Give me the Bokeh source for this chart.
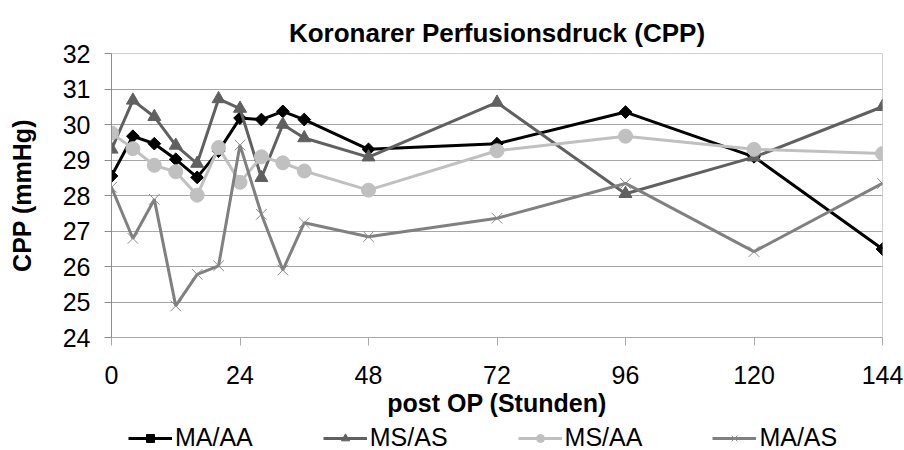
from bokeh.plotting import figure
from bokeh.layouts import column
from bokeh.models import Legend, LegendItem, FixedTicker, Range1d
from bokeh.embed import file_html
from bokeh.resources import INLINE

hours = [0, 4, 8, 12, 16, 20, 24, 28, 32, 36, 48, 72, 96, 120, 144]
ma_aa = [28.55, 29.67, 29.46, 29.02, 28.51, 29.25, 30.18, 30.14, 30.37, 30.14, 29.30, 29.46, 30.35, 29.09, 26.49]
ms_as = [29.30, 30.68, 30.22, 29.41, 28.90, 30.72, 30.45, 28.50, 30.00, 29.62, 29.08, 30.62, 28.05, 29.08, 30.50]
ms_aa = [29.76, 29.32, 28.85, 28.67, 28.01, 29.35, 28.37, 29.09, 28.92, 28.69, 28.15, 29.26, 29.67, 29.30, 29.18]
ma_as = [28.23, 26.79, 27.89, 24.89, 25.78, 26.02, 29.42, 27.47, 25.90, 27.23, 26.84, 27.36, 28.34, 26.42, 28.34]

x_ticks = [0, 24, 48, 72, 96, 120, 144]
y_ticks = [24, 25, 26, 27, 28, 29, 30, 31, 32]

FONT = "Liberation Sans"

p = figure(frame_width=771, frame_height=284, output_backend="svg", toolbar_location=None,
           x_range=Range1d(0, 144), y_range=Range1d(24, 32))
p.min_border_left = 111
p.min_border_right = 22
p.min_border_top = 53
p.min_border_bottom = 0
p.background_fill_color = "white"
p.border_fill_color = "white"
p.outline_line_color = "#d0d0d0"

p.title.text = "Koronarer Perfusionsdruck (CPP)"
p.title.align = "center"
p.title.vertical_align = "middle"
p.title.text_font = FONT
p.title.text_font_size = "26px"
p.title.text_font_style = "bold"
p.title.text_color = "black"

p.xaxis.ticker = FixedTicker(ticks=x_ticks)
p.yaxis.ticker = FixedTicker(ticks=y_ticks)
for ax in (p.xaxis[0], p.yaxis[0]):
    ax.major_label_text_font = FONT
    ax.major_label_text_font_size = "25px"
    ax.major_label_text_color = "black"
    ax.axis_label_text_font = FONT
    ax.axis_label_text_font_style = "bold"
    ax.axis_label_text_color = "black"
    ax.minor_tick_line_color = None
    ax.major_tick_in = 0
p.xaxis.axis_label = "post OP (Stunden)"
p.xaxis.axis_label_text_font_size = "25px"
p.xaxis.major_tick_out = 8
p.xaxis.major_label_standoff = 20
p.xaxis.axis_label_standoff = 2
p.xaxis.axis_line_color = "#a8a8a8"
p.xaxis.major_tick_line_color = "#a8a8a8"

p.yaxis.axis_label = "CPP (mmHg)"
p.yaxis.axis_label_text_font_size = "25px"
p.yaxis.major_tick_out = 7
p.yaxis.major_label_standoff = 14
p.yaxis.axis_label_standoff = 24
p.yaxis.axis_line_color = "#8c8c8c"
p.yaxis.major_tick_line_color = "#8c8c8c"

p.xgrid.visible = False
p.ygrid.ticker = FixedTicker(ticks=y_ticks)
p.ygrid.grid_line_color = "#a6a6a6"

series = [
    ("MA/AA", ma_aa, "#000000", "square", 9, 45),
    ("MS/AS", ms_as, "#606060", "triangle", 13, 0),
    ("MS/AA", ms_aa, "#c0c0c0", "circle", 14, 0),
    ("MA/AS", ma_as, "#808080", "x", 15, 0),
]

def add_series(fig, xs, ys, col, mk, sz, ang):
    ln = fig.line(xs, ys, line_color=col, line_width=3)
    if mk == "x":
        sc = fig.scatter(xs, ys, marker="x", size=sz, line_color="#8a8a8a", line_width=1)
    else:
        sc = fig.scatter(xs, ys, marker=mk, size=sz, fill_color=col, line_color=col,
                         angle=ang * 3.14159265 / 180)
    return ln, sc

for name, vals, col, mk, sz, ang in series:
    add_series(p, hours, vals, col, mk, sz, ang)

# legend strip below the chart (its series lie outside its ranges, so only the legend shows)
p2 = figure(width=904, height=30, output_backend="svg", toolbar_location=None,
            x_axis_location=None, y_axis_location=None,
            x_range=Range1d(0, 144), y_range=Range1d(0, 1))
p2.min_border_left = 0
p2.min_border_right = 0
p2.min_border_top = 0
p2.min_border_bottom = 0
p2.outline_line_color = None
p2.background_fill_color = "white"
p2.border_fill_color = "white"
p2.grid.visible = False

items = []
for name, vals, col, mk, sz, ang in series:
    ln2, sc2 = add_series(p2, hours, vals, col, mk, sz, ang)
    items.append(LegendItem(label=name, renderers=[ln2, sc2]))

legend = Legend(items=items, orientation="horizontal", location=(17, -3))
legend.glyph_width = 44
legend.glyph_height = 20
legend.label_standoff = 3
legend.spacing = 70
legend.padding = 0
legend.margin = 0
legend.border_line_color = None
legend.background_fill_alpha = 0
legend.label_text_font = FONT
legend.label_text_font_size = "25px"
legend.label_text_color = "black"
p2.add_layout(legend, "center")

layout = column(p, p2, spacing=0)
open("out.html", "w").write(file_html(layout, INLINE))
